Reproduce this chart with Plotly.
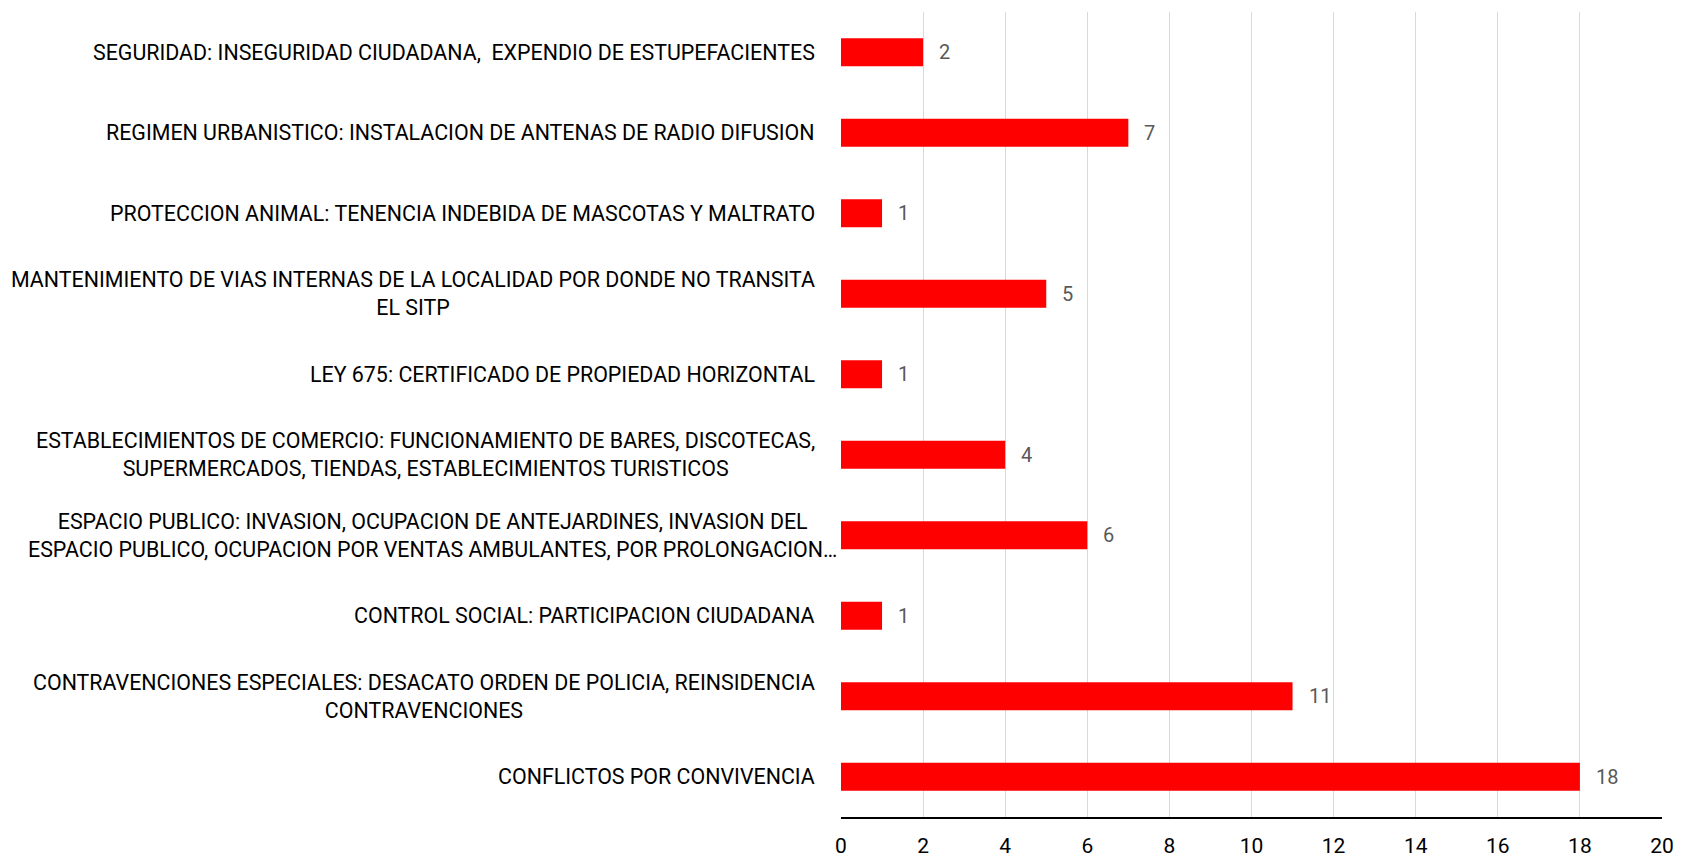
import plotly.graph_objects as go

categories = [
    "SEGURIDAD: INSEGURIDAD CIUDADANA,  EXPENDIO DE ESTUPEFACIENTES",
    "REGIMEN URBANISTICO: INSTALACION DE ANTENAS DE RADIO DIFUSION",
    "PROTECCION ANIMAL: TENENCIA INDEBIDA DE MASCOTAS Y MALTRATO",
    "MANTENIMIENTO DE VIAS INTERNAS DE LA LOCALIDAD POR DONDE NO TRANSITA<br>EL SITP",
    "LEY 675: CERTIFICADO DE PROPIEDAD HORIZONTAL",
    "ESTABLECIMIENTOS DE COMERCIO: FUNCIONAMIENTO DE BARES, DISCOTECAS,<br>SUPERMERCADOS, TIENDAS, ESTABLECIMIENTOS TURISTICOS",
    "ESPACIO PUBLICO: INVASION, OCUPACION DE ANTEJARDINES, INVASION DEL<br>ESPACIO PUBLICO, OCUPACION POR VENTAS AMBULANTES, POR PROLONGACION…",
    "CONTROL SOCIAL: PARTICIPACION CIUDADANA",
    "CONTRAVENCIONES ESPECIALES: DESACATO ORDEN DE POLICIA, REINSIDENCIA<br>CONTRAVENCIONES",
    "CONFLICTOS POR CONVIVENCIA",
]
values = [2, 7, 1, 5, 1, 4, 6, 1, 11, 18]
x_ticks = [0, 2, 4, 6, 8, 10, 12, 14, 16, 18, 20]

FONT = "Roboto, sans-serif"

fig = go.Figure()
fig.add_trace(go.Bar(
    x=values, y=list(range(len(categories))), orientation="h",
    marker=dict(color="#ff0000", line=dict(width=0)),
    width=0.35, hoverinfo="skip",
))

annotations = []
for i, (c, v) in enumerate(zip(categories, values)):
    shift = -24
    if c.startswith("ESPACIO"):
        shift = -2
    annotations.append(dict(
        x=0, xref="paper", y=i, yref="y", text=c, showarrow=False,
        xanchor="right", yanchor="middle", align="center", xshift=shift,
        font=dict(family=FONT, size=21.4, color="#000000"),
    ))
    annotations.append(dict(
        x=v, xref="x", y=i, yref="y", text=str(v), showarrow=False,
        xanchor="left", yanchor="middle", xshift=14,
        font=dict(family=FONT, size=20, color="#595959"),
    ))

fig.update_layout(
    width=1681, height=860,
    margin=dict(l=841, r=19, t=12, b=43, autoexpand=False),
    paper_bgcolor="white", plot_bgcolor="white",
    showlegend=False,
    annotations=annotations,
    xaxis=dict(
        range=[0, 20], tickvals=x_ticks, ticktext=[str(t) for t in x_ticks],
        showgrid=True, gridcolor="#d9d9d9", gridwidth=1.3,
        zeroline=False, showline=True, linecolor="#000000", linewidth=2,
        ticks="", ticklabelstandoff=9, automargin=False,
        tickfont=dict(family=FONT, size=21, color="#000000"),
        fixedrange=True,
    ),
    yaxis=dict(
        range=[len(categories) - 0.5, -0.5], showticklabels=False,
        showgrid=False, zeroline=False, showline=False, fixedrange=True,
        automargin=False,
    ),
)

fig.write_html("out.html")
